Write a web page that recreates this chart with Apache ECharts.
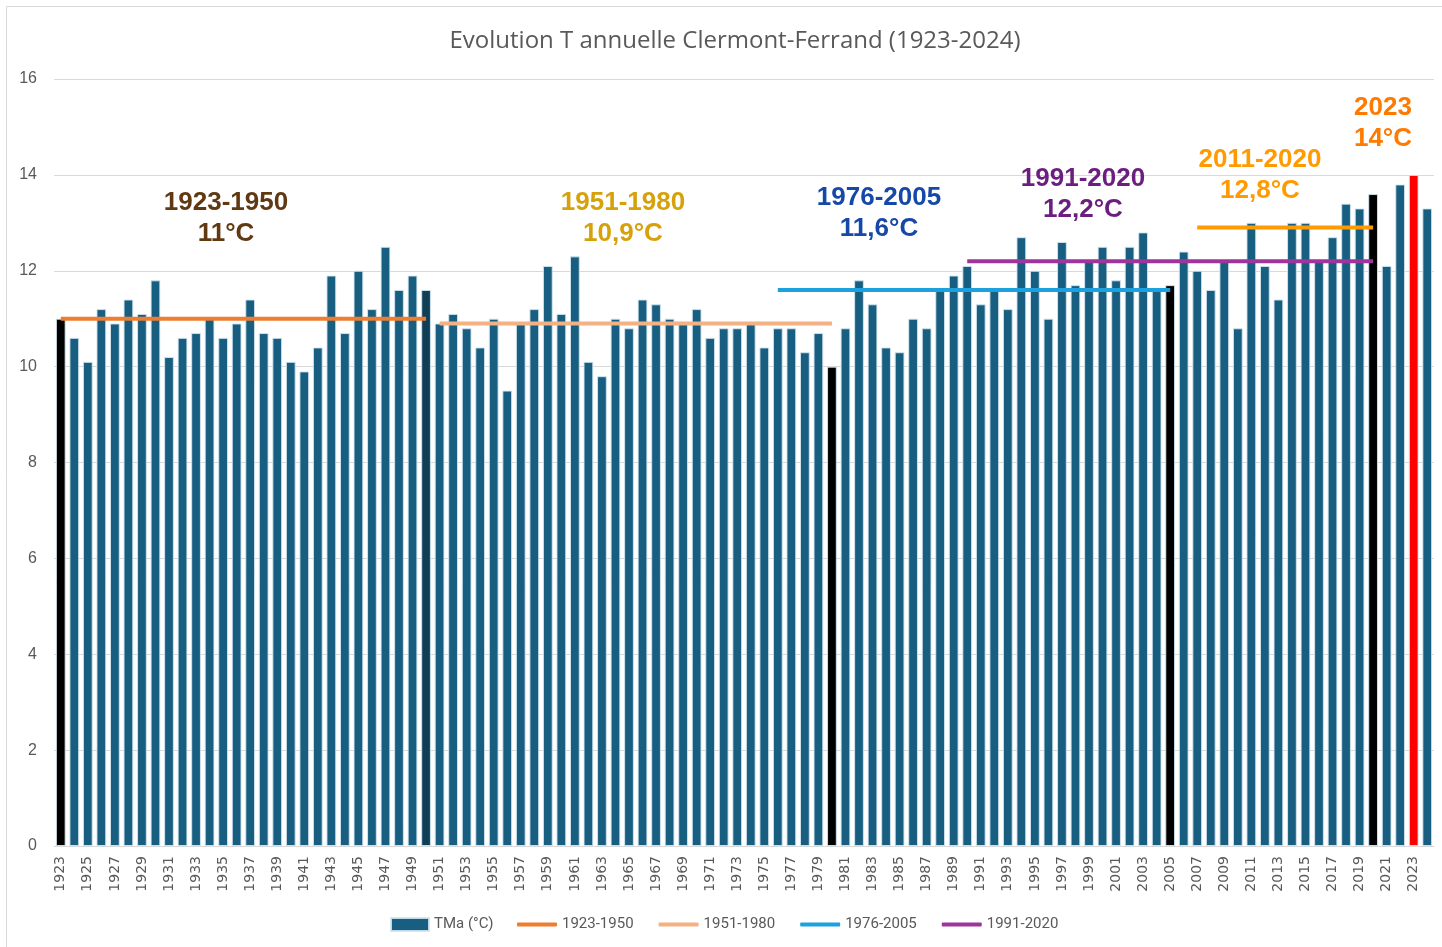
<!DOCTYPE html>
<html>
<head>
<meta charset="utf-8">
<script src="https://cdn.jsdelivr.net/npm/echarts@6/dist/echarts.min.js"></script>
<style>
  html, body { margin: 0; padding: 0; background: #fff; }
  #main { width: 1442px; height: 947px; }
</style>
</head>
<body>
<div id="main"></div>
<script>
// ===== données =====
const firstYear = 1923;
const lastYear = 2024;
const years = [];
for (let y = firstYear; y <= lastYear; y++) years.push(String(y));

// TMa (°C), 1923 -> 2024
const tma = [
  11.0, 10.6, 10.1, 11.2, 10.9, 11.4, 11.1, 11.8, 10.2, 10.6, // 1923-1932
  10.7, 11.0, 10.6, 10.9, 11.4, 10.7, 10.6, 10.1, 9.9, 10.4,  // 1933-1942
  11.9, 10.7, 12.0, 11.2, 12.5, 11.6, 11.9, 11.6, 10.9, 11.1, // 1943-1952
  10.8, 10.4, 11.0, 9.5, 10.9, 11.2, 12.1, 11.1, 12.3, 10.1,  // 1953-1962
  9.8, 11.0, 10.8, 11.4, 11.3, 11.0, 10.9, 11.2, 10.6, 10.8,  // 1963-1972
  10.8, 10.9, 10.4, 10.8, 10.8, 10.3, 10.7, 10.0, 10.8, 11.8, // 1973-1982
  11.3, 10.4, 10.3, 11.0, 10.8, 11.6, 11.9, 12.1, 11.3, 11.6, // 1983-1992
  11.2, 12.7, 12.0, 11.0, 12.6, 11.7, 12.2, 12.5, 11.8, 12.5, // 1993-2002
  12.8, 11.6, 11.7, 12.4, 12.0, 11.6, 12.2, 10.8, 13.0, 12.1, // 2003-2012
  11.4, 13.0, 13.0, 12.2, 12.7, 13.4, 13.3, 13.6, 12.1, 13.8, // 2013-2022
  14.0, 13.3                                                   // 2023-2024
];

// barres mises en évidence
const blackYears = ['1923', '1980', '2005', '2020'];
const darkYears = ['1950'];
const redYears = ['2023'];

// moyennes de référence
const periodNames  = ['1923-1950', '1951-1980', '1976-2005', '1991-2020', '2011-2020'];
const periodStart  = [1923, 1951, 1976, 1990, 2007];
const periodEnd    = [1950, 1980, 2005, 2020, 2020];
const periodMean   = [11.0, 10.9, 11.6, 12.2, 12.9];
const periodColors = ['#ED7D31', '#F4B183', '#1DA1DE', '#9E349C', '#FF9A00'];
const inLegend     = [true, true, true, true, false];

// étiquettes
const noteTexts  = ['1923-1950\n11°C', '1951-1980\n10,9°C', '1976-2005\n11,6°C',
                    '1991-2020\n12,2°C', '2011-2020\n12,8°C', '2023\n14°C'];
const noteColors = ['#603913', '#D6A20C', '#1648A8', '#6B1E7F', '#FF9A00', '#FF7A00'];
const noteX      = [226, 623, 879, 1083, 1260, 1383];
const noteY      = [217, 217, 212, 193, 174, 122];

const barColor = '#175E80';
const txtColor = '#595959';

// ===== graphique =====
const chart = echarts.init(document.getElementById('main'));

const barData = tma.map((v, i) => {
  const yr = years[i];
  let color = barColor;
  if (blackYears.includes(yr)) color = '#000000';
  if (darkYears.includes(yr)) color = '#0F3F57';
  if (redYears.includes(yr)) color = '#FF0000';
  return { value: v, itemStyle: { color } };
});

const lineSeries = periodNames.map((name, k) => ({
  name,
  type: 'line',
  symbol: 'none',
  z: 5,
  lineStyle: { width: 4, color: periodColors[k] },
  itemStyle: { color: periodColors[k] },
  data: years.map(y => (+y >= periodStart[k] && +y <= periodEnd[k]) ? periodMean[k] : null)
}));

const notes = noteTexts.map((t, i) => ({
  type: 'text',
  x: noteX[i],
  y: noteY[i] + 1,
  z: 10,
  style: {
    text: t,
    fill: noteColors[i],
    font: 'bold 26px "Liberation Sans", Arial, sans-serif',
    lineHeight: 31,
    align: 'center',
    verticalAlign: 'middle'
  }
}));

const legendText = { fontSize: 15, color: txtColor, fontFamily: '"Liberation Sans Narrow", "Roboto", sans-serif' };

const option = {
  animation: false,
  backgroundColor: '#fff',
  title: {
    text: 'Evolution T annuelle Clermont-Ferrand (1923-2024)',
    left: 730,
    top: 24,
    textAlign: 'center',
    textStyle: { fontSize: 24, fontWeight: 'normal', color: txtColor, fontFamily: '"Open Sans", sans-serif' }
  },
  grid: { left: 54, right: 8, top: 79, bottom: 101, containLabel: false },
  legend: [{
    bottom: 10,
    left: 385,
    itemWidth: 38,
    itemHeight: 13,
    textStyle: legendText,
    data: [{ name: 'TMa (°C)', icon: 'rect' }]
  }, {
    bottom: 10,
    left: 512,
    itemWidth: 40,
    itemHeight: 4,
    itemGap: 25,
    textStyle: legendText,
    data: periodNames.filter((n, k) => inLegend[k]).map(n => ({ name: n, icon: 'roundRect' }))
  }],
  xAxis: {
    type: 'category',
    data: years,
    axisLine: { show: true, lineStyle: { color: '#d9d9d9' } },
    axisTick: { show: false },
    axisLabel: {
      interval: 1,
      rotate: 90,
      fontSize: 14,
      color: txtColor,
      margin: 10,
      fontFamily: '"DejaVu Sans", sans-serif'
    }
  },
  yAxis: {
    type: 'value',
    min: 0,
    max: 16,
    interval: 2,
    axisLine: { show: false },
    axisTick: { show: false },
    splitLine: { lineStyle: { color: '#d9d9d9' } },
    axisLabel: { fontSize: 16, color: txtColor, margin: 17, fontFamily: '"Liberation Sans", Arial, sans-serif' }
  },
  series: [{
    name: 'TMa (°C)',
    type: 'bar',
    barCategoryGap: '28%',
    itemStyle: { color: barColor, borderColor: 'rgba(210,230,240,0.9)', borderWidth: 1 },
    data: barData
  }].concat(lineSeries),
  graphic: [{
    type: 'rect',
    shape: { x: 6.5, y: 6.5, width: 1460, height: 960 },
    style: { fill: 'none', stroke: '#d9d9d9', lineWidth: 1 },
    silent: true
  }].concat(notes)
};

chart.setOption(option);
</script>
</body>
</html>
